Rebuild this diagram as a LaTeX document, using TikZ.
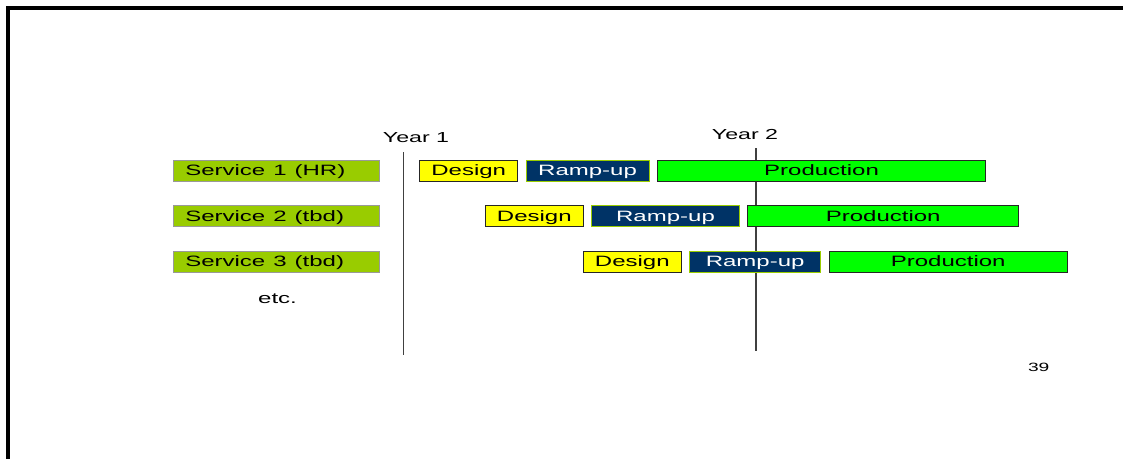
\documentclass[tikz,border=0pt]{standalone}
\usepackage{fontspec}
\setmainfont{Liberation Sans}
\usepackage{graphicx}
\usepackage{tikz}
\usetikzlibrary{positioning}
\definecolor{servgreen}{HTML}{99CC00}
\definecolor{servgray}{HTML}{999999}
\definecolor{designyellow}{HTML}{FFFF00}
\definecolor{rampnavy}{HTML}{003366}
\definecolor{prodgreen}{HTML}{00FF00}
\definecolor{yeargray}{HTML}{404040}
\newcommand{\wide}[1]{\scalebox{1.6}[1]{#1}} % the slide text is stretched sideways
\tikzset{
x=1pt, y=-1pt, % one unit is one pixel of the slide
node distance=8.5pt, % gap between the phases of one row
every node/.style={outer sep=0pt, font=\fontsize{15}{18}\selectfont},
phase/.style={draw, line width=0.8pt, minimum height=21pt, inner sep=0pt, text height=10.7pt, text depth=0pt, anchor=west},
service/.style={phase, draw=servgray, fill=servgreen, text width=182pt, inner xsep=12pt, align=left},
design/.style={phase, draw=black!85, fill=designyellow, minimum width=98pt},
rampup/.style={phase, draw=servgreen, fill=rampnavy, text=white},
production/.style={phase, draw=black!85, fill=prodgreen},
yearline/.style={draw=yeargray, line width=1.2pt},
}
\begin{document}
\begin{tikzpicture}
\useasboundingbox (0,0) rectangle (1123,458);
% slide frame
\draw[line width=4pt] (8,470) -- (8,8) -- (1130,8);

% year markers, behind the bars
\coordinate (y1_top) at (403.7,152.3);
\coordinate (y1_bot) at (403.7,355);
\coordinate (y2_top) at (756,148.3);
\coordinate (y2_bot) at (756,350.7);
\draw[yearline] (y1_top) -- (y1_bot);
\draw[yearline] (y2_top) -- (y2_bot);
\node[anchor=base, font=\fontsize{14.5}{17}\selectfont] (year_1) at (416,142.3) {\wide{Year 1}};
\node[anchor=base, font=\fontsize{14.5}{17}\selectfont] (year_2) at (745,139) {\wide{Year 2}};

% services
\node[service] (serv_1) at (173.3,170.6) {\wide{Service 1 (HR)}};
\node[service] (serv_2) at (173.3,216.1) {\wide{Service 2 (tbd)}};
\node[service] (serv_3) at (173.3,261.6) {\wide{Service 3 (tbd)}};
\node[anchor=base] (etc) at (277.5,303) {\wide{etc.}};

% row 1
\node[design] (design_1) at (419.7,170.6) {\wide{Design}};
\node[rampup, minimum width=122.7pt, right=of design_1] (ramp_1) {\wide{Ramp-up}};
\node[production, minimum width=328.3pt, right=of ramp_1] (prod_1) {\wide{Production}};

% row 2
\node[design] (design_2) at (485.3,216.1) {\wide{Design}};
\node[rampup, minimum width=147.4pt, right=of design_2] (ramp_2) {\wide{Ramp-up}};
\node[production, minimum width=271pt, right=of ramp_2] (prod_2) {\wide{Production}};

% row 3
\node[design] (design_3) at (583.3,261.6) {\wide{Design}};
\node[rampup, minimum width=130.7pt, right=of design_3] (ramp_3) {\wide{Ramp-up}};
\node[production, minimum width=238.4pt, right=of ramp_3] (prod_3) {\wide{Production}};

% page number
\node[anchor=base, font=\fontsize{12}{14}\selectfont] (page_num) at (1038.7,371.7) {\wide{39}};
\end{tikzpicture}
\end{document}
